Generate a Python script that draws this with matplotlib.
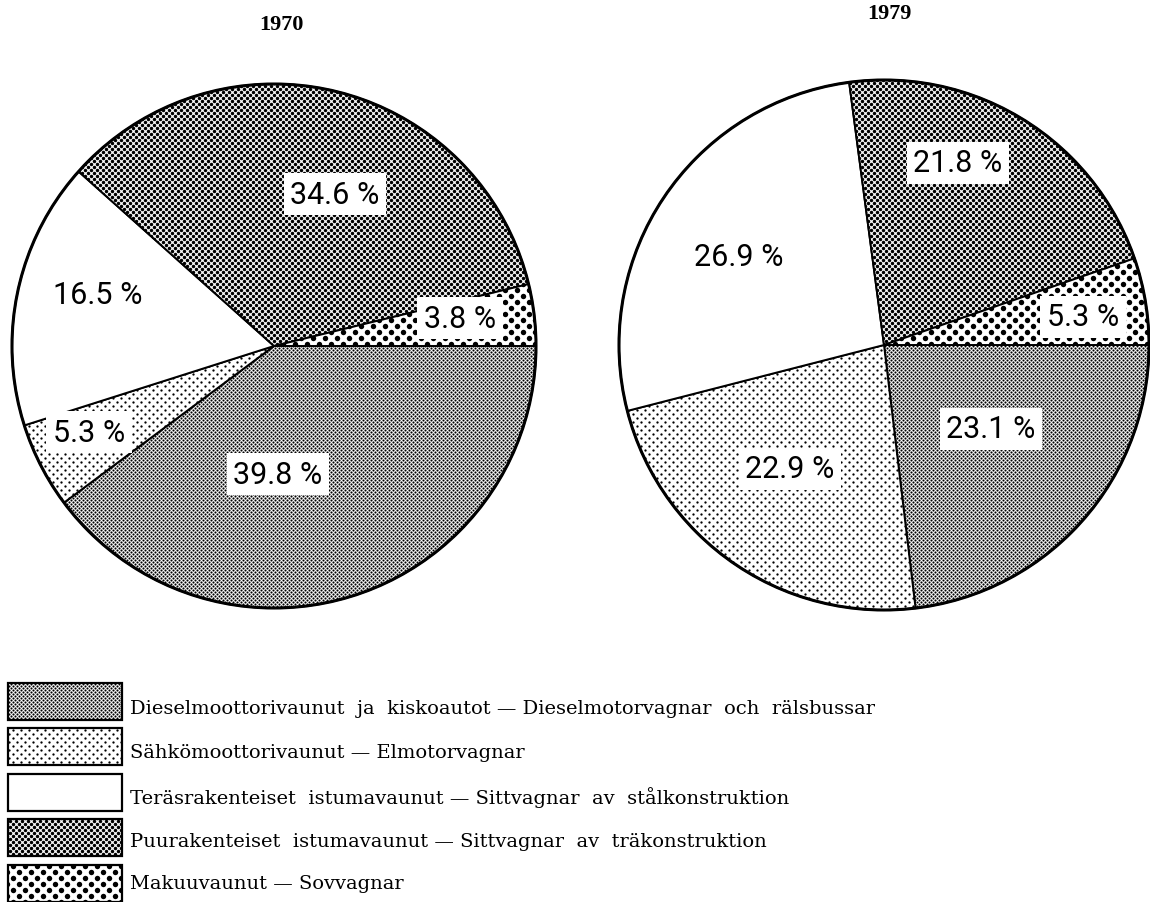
import numpy as np
import matplotlib
matplotlib.use("Agg")
import matplotlib.pyplot as plt
from matplotlib.patches import Rectangle, Circle

# Shares (%), in legend order
categories = [
    "Dieselmoottorivaunut  ja  kiskoautot — Dieselmotorvagnar  och  rälsbussar",
    "Sähkömoottorivaunut — Elmotorvagnar",
    "Teräsrakenteiset  istumavaunut — Sittvagnar  av  stålkonstruktion",
    "Puurakenteiset  istumavaunut — Sittvagnar  av  träkonstruktion",
    "Makuuvaunut — Sovvagnar",
]
years = ["1970", "1979"]
shares_1970 = [39.8, 5.3, 16.5, 34.6, 3.8]
shares_1979 = [23.1, 22.9, 26.9, 21.8, 5.3]

W, H = 1150, 903

# dot textures: (x spacing, row spacing, dot diameter) in px, None = blank
textures = [(4, 2, 2.1), (8, 4, 2.3), None, (6, 3, 3.5), (12, 6, 5.4)]

# layout (pixel coordinates, y measured from top)
pie_centers = [(274, 347), (884, 346)]
pie_radii = [262, 265]
title_pos = [(281, 25), (889, 14)]
label_pos = [
    [(278, 475), (89, 433), (98, 295), (335, 195), (460, 319)],
    [(991, 430), (790, 470), (739, 257), (958, 164), (1083, 318)],
]

fig = plt.figure(figsize=(W / 100, H / 100), dpi=100)
ax = fig.add_axes([0, 0, 1, 1])


def fy(py):
    return H - py


def add_dots(ax, patch, bounds, tex):
    if tex is None:
        return
    sx, sy, d = tex
    x0, x1, y0, y1 = bounds
    rows = np.arange(np.floor(y0 / sy) * sy, y1 + sy, sy)
    pts = []
    for yy in rows:
        off = (sx / 2) * (int(round(yy / sy)) % 2)
        xs = np.arange(np.floor(x0 / sx) * sx + off, x1 + sx, sx) + 0.5
        pts.append(np.column_stack([xs, np.full_like(xs, yy + 0.5)]))
    pts = np.vstack(pts)
    sc = ax.scatter(pts[:, 0], pts[:, 1], s=(d * 0.72) ** 2, c="black",
                    linewidths=0, zorder=patch.get_zorder() + 0.1)
    sc.set_clip_path(patch)


for i, shares in enumerate([shares_1970, shares_1979]):
    cx, cy = pie_centers[i]
    r = pie_radii[i]
    wedges, _ = ax.pie(shares, colors=["white"] * 5, startangle=0,
                       counterclock=False, center=(cx, fy(cy)), radius=r,
                       frame=True,
                       wedgeprops=dict(edgecolor="black", linewidth=1.4))
    for j, w in enumerate(wedges):
        add_dots(ax, w, (cx - r, cx + r, fy(cy) - r, fy(cy) + r), textures[j])
    ax.add_patch(Circle((cx, fy(cy)), r, fill=False, edgecolor="black",
                        linewidth=2.2, zorder=5))
    for j, v in enumerate(shares):
        lx, ly = label_pos[i][j]
        ax.text(lx, fy(ly), "{:.1f} %".format(v), ha="center", va="center",
                fontsize=22, family="Roboto", color="black", zorder=6,
                bbox=dict(boxstyle="square,pad=0.22", fc="white", ec="none"))
    tx, ty = title_pos[i]
    ax.text(tx, fy(ty), years[i], ha="center", va="center", fontsize=16,
            fontweight="bold", family="Liberation Serif")

# legend
box_y = [702, 747, 793, 838, 884]
text_y = [709, 753, 798, 842, 884]
for j, name in enumerate(categories):
    rect = Rectangle((8, fy(box_y[j]) - 18.5), 114, 37, facecolor="white",
                     edgecolor="black", linewidth=1.6, zorder=2)
    ax.add_patch(rect)
    add_dots(ax, rect, (8, 122, fy(box_y[j]) - 19, fy(box_y[j]) + 19),
             textures[j])
    ax.text(130, fy(text_y[j]), name, ha="left", va="center", fontsize=14,
            family="DejaVu Serif")

ax.set_xlim(0, W)
ax.set_ylim(0, H)
ax.set_aspect("auto")
ax.axis("off")

fig.savefig("out.png", dpi=100)
